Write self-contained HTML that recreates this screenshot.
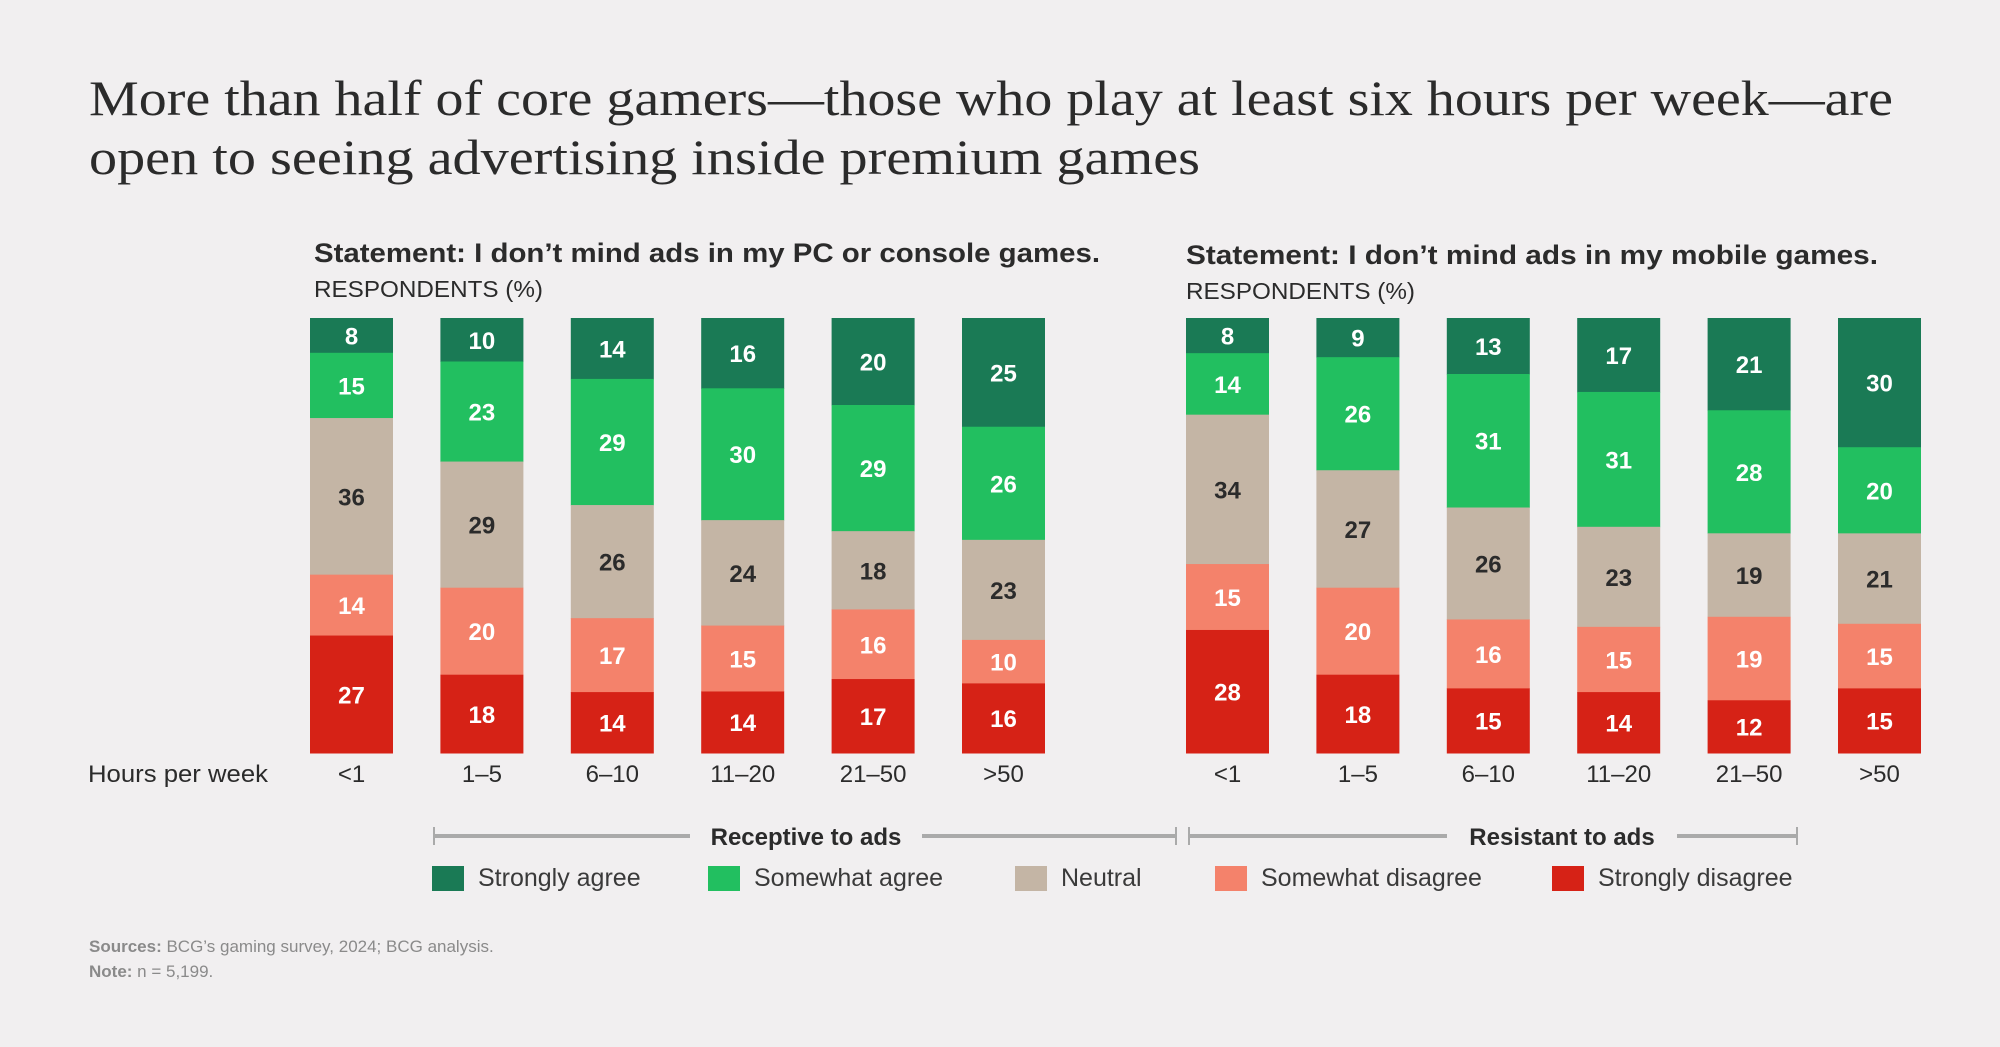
<!DOCTYPE html>
<html><head><meta charset="utf-8"><style>
html,body{margin:0;padding:0;background:#f1eff0;}
svg{display:block;font-family:"Liberation Sans",sans-serif;}
</style></head><body>
<svg id="chart" width="2000" height="1047" viewBox="0 0 2000 1047" xmlns="http://www.w3.org/2000/svg">
<rect width="2000" height="1047" fill="#f1eff0"/>
<text x="89" y="115" style="font-family:'Liberation Serif',serif" font-size="50" fill="#2b2b2b" textLength="1804" lengthAdjust="spacingAndGlyphs">More than half of core gamers—those who play at least six hours per week—are</text>
<text x="89" y="174" style="font-family:'Liberation Serif',serif" font-size="50" fill="#2b2b2b" textLength="1111" lengthAdjust="spacingAndGlyphs">open to seeing advertising inside premium games</text>
<text x="314" y="262" font-size="27" font-weight="bold" fill="#2b2b2b" textLength="786" lengthAdjust="spacingAndGlyphs">Statement: I don’t mind ads in my PC or console games.</text>
<text x="314" y="297" font-size="23" fill="#2b2b2b" textLength="229" lengthAdjust="spacingAndGlyphs">RESPONDENTS (%)</text>
<text x="1186" y="264" font-size="27" font-weight="bold" fill="#2b2b2b" textLength="692" lengthAdjust="spacingAndGlyphs">Statement: I don’t mind ads in my mobile games.</text>
<text x="1186" y="299" font-size="23" fill="#2b2b2b" textLength="229" lengthAdjust="spacingAndGlyphs">RESPONDENTS (%)</text>
<text x="88" y="782" font-size="24" fill="#2b2b2b" textLength="180" lengthAdjust="spacingAndGlyphs">Hours per week</text>
<g id="bars"></g>
<g stroke="#aaaaaa" stroke-width="4">
<line x1="434" y1="836" x2="690" y2="836"/><line x1="922" y1="836" x2="1176" y2="836"/>
<line x1="434" y1="827" x2="434" y2="845" stroke-width="2"/><line x1="1176" y1="827" x2="1176" y2="845" stroke-width="2"/>
</g>
<text x="806" y="845" font-size="24" font-weight="bold" fill="#2b2b2b" text-anchor="middle">Receptive to ads</text>
<g stroke="#aaaaaa" stroke-width="4">
<line x1="1189" y1="836" x2="1447" y2="836"/><line x1="1677" y1="836" x2="1797" y2="836"/>
<line x1="1189" y1="827" x2="1189" y2="845" stroke-width="2"/><line x1="1797" y1="827" x2="1797" y2="845" stroke-width="2"/>
</g>
<text x="1562" y="845" font-size="24" font-weight="bold" fill="#2b2b2b" text-anchor="middle">Resistant to ads</text>
<g id="legend"></g>
<text x="89" y="952" font-size="17" fill="#8a8a8a"><tspan font-weight="bold">Sources:</tspan> BCG’s gaming survey, 2024; BCG analysis.</text>
<text x="89" y="977" font-size="17" fill="#8a8a8a"><tspan font-weight="bold">Note:</tspan> n = 5,199.</text>
</svg>
<script>
const categories = ["<1","1–5","6–10","11–20","21–50",">50"];
const seriesNames = ["Strongly agree","Somewhat agree","Neutral","Somewhat disagree","Strongly disagree"];
const pcStronglyAgree = [8,10,14,16,20,25];
const pcSomewhatAgree = [15,23,29,30,29,26];
const pcNeutral = [36,29,26,24,18,23];
const pcSomewhatDisagree = [14,20,17,15,16,10];
const pcStronglyDisagree = [27,18,14,14,17,16];
const mobStronglyAgree = [8,9,13,17,21,30];
const mobSomewhatAgree = [14,26,31,31,28,20];
const mobNeutral = [34,27,26,23,19,21];
const mobSomewhatDisagree = [15,20,16,15,19,15];
const mobStronglyDisagree = [28,18,15,14,12,15];

const colors = ["#1a7a55","#22bf60","#c4b5a5","#f4826b","#d62216"];
const labelColors = ["#fff","#fff","#2b2b2b","#fff","#fff"];
const NS = "http://www.w3.org/2000/svg";
const barsG = document.getElementById("bars");
const top0 = 318, bottom0 = 753, barW = 83, step = 130.4;
function xPos(panelLeft, i){ return panelLeft + i*step; }
function drawPanel(panelLeft, series){
  categories.forEach((c,i)=>{
    const total = series.reduce((s,a)=>s+a[i],0);
    const yScale = v => (bottom0-top0)*v/total;
    let y = top0;
    series.forEach((arr,k)=>{
      const h = yScale(arr[i]);
      const r = document.createElementNS(NS,"rect");
      r.setAttribute("x", xPos(panelLeft,i)); r.setAttribute("y", y);
      r.setAttribute("width", barW); r.setAttribute("height", h+0.5);
      r.setAttribute("fill", colors[k]);
      
      
      barsG.appendChild(r);
      const t = document.createElementNS(NS,"text");
      t.setAttribute("x", xPos(panelLeft,i)+barW/2); t.setAttribute("y", y+h/2+9);
      t.setAttribute("text-anchor","middle"); t.setAttribute("font-size","24");
      t.setAttribute("font-weight","bold"); t.setAttribute("fill", labelColors[k]);
      t.textContent = arr[i];
      
      
      barsG.appendChild(t);
      y += h;
    });
    const lt = document.createElementNS(NS,"text");
    lt.setAttribute("x", xPos(panelLeft,i)+barW/2); lt.setAttribute("y", 782);
    lt.setAttribute("text-anchor","middle"); lt.setAttribute("font-size","24"); lt.setAttribute("fill","#2b2b2b");
    lt.textContent = c;
    
    
    barsG.appendChild(lt);
  });
}
drawPanel(310,[pcStronglyAgree,pcSomewhatAgree,pcNeutral,pcSomewhatDisagree,pcStronglyDisagree]);
drawPanel(1186,[mobStronglyAgree,mobSomewhatAgree,mobNeutral,mobSomewhatDisagree,mobStronglyDisagree]);

const legendG = document.getElementById("legend");
const legendX = [432,708,1015,1215,1552];
seriesNames.forEach((n,k)=>{
  const g = document.createElementNS(NS,"g");
  
  
  const r = document.createElementNS(NS,"rect");
  r.setAttribute("x", legendX[k]); r.setAttribute("y", 866); r.setAttribute("width", 32); r.setAttribute("height", 25);
  r.setAttribute("fill", colors[k]);
  
  
  const t = document.createElementNS(NS,"text");
  t.setAttribute("x", legendX[k]+46); t.setAttribute("y", 886); t.setAttribute("font-size","25"); t.setAttribute("fill","#3a3a3a");
  t.textContent = n;
  
  
  g.appendChild(r); g.appendChild(t); legendG.appendChild(g);
});
</script>
</body></html>
